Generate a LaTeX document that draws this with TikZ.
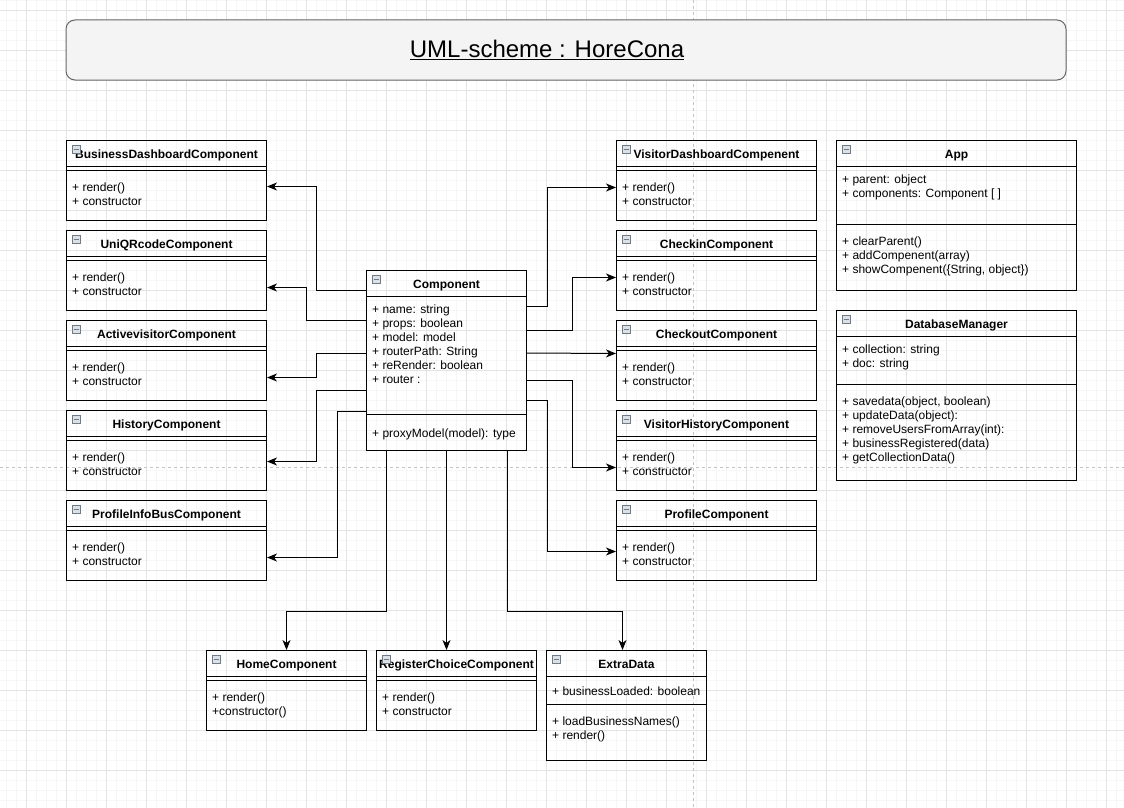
\documentclass[tikz,border=0pt]{standalone}
\usepackage{fontspec}
\setmainfont{Liberation Sans}
\usepackage{tikz}
\usetikzlibrary{calc,arrows.meta}
\usepackage{xcolor}
\definecolor{grid_minor}{HTML}{F6F6F6}
\definecolor{grid_major}{HTML}{E4E4E4}
\definecolor{page_line}{HTML}{C4C4C4}
\definecolor{title_fill}{HTML}{F4F4F4}
\definecolor{title_draw}{HTML}{666666}
\definecolor{icon_draw}{HTML}{6F7B88}
\definecolor{icon_fill}{HTML}{DCE1E6}

% simple component box: name, x, y, width, title, operations
\newcommand{\compbox}[6]{%
	\node[umlbox, minimum width=#4pt, minimum height=80pt] (#1) at (#2,#3) {};
	\node[umltitle] (#1-name) at ([yshift=-18pt]#1.north) {#5};
	\node[umlicon] (#1-icon) at ([xshift=10pt,yshift=-9pt]#1.north west) {};
	\draw[icon_draw, line width=1pt] ([xshift=-2.5pt]#1-icon.center) -- ([xshift=2.5pt]#1-icon.center);
	\draw[umlline] ([yshift=-26pt]#1.north west) -- ([yshift=-26pt]#1.north east);
	\draw[umlline] ([yshift=-30pt]#1.north west) -- ([yshift=-30pt]#1.north east);
	\node[umltext] (#1-ops) at ([xshift=6pt,yshift=-42.2pt]#1.north west) {#6};
}
% class with fields: name, x, y, width, height, title, fields, separator, operations
\newcommand{\umlclass}[9]{%
	\node[umlbox, minimum width=#4pt, minimum height=#5pt] (#1) at (#2,#3) {};
	\node[umltitle] (#1-name) at ([yshift=-18pt]#1.north) {#6};
	\node[umlicon] (#1-icon) at ([xshift=10pt,yshift=-9pt]#1.north west) {};
	\draw[icon_draw, line width=1pt] ([xshift=-2.5pt]#1-icon.center) -- ([xshift=2.5pt]#1-icon.center);
	\draw[umlline] ([yshift=-26pt]#1.north west) -- ([yshift=-26pt]#1.north east);
	\node[umltext] (#1-attr) at ([xshift=6pt,yshift=-35pt]#1.north west) {#7};
	\draw[umlline] ([yshift=-#8pt]#1.north west) -- ([yshift=-#8pt]#1.north east);
	\node[umltext] (#1-ops) at ([xshift=6pt,yshift=-#8pt-13pt]#1.north west) {#9};
}

\begin{document}
\begin{tikzpicture}[x=1pt, y=-1pt,
	umlbox/.style={draw, line width=1pt, anchor=north west, inner sep=0pt},
	umlline/.style={line width=1pt},
	umltitle/.style={anchor=base, inner sep=0pt, font=\fontsize{12}{14}\selectfont\bfseries},
	umltext/.style={anchor=north west, align=left, inner sep=0pt, font=\fontsize{12}{14}\selectfont, execute at begin node=\strut},
	umlicon/.style={draw=icon_draw, fill=icon_fill, line width=0.6pt, minimum size=8pt, inner sep=0pt},
	link/.style={line width=1pt, -{Stealth[length=10pt, width=8pt, inset=3pt]}}]
	\useasboundingbox (0,0) rectangle (1124,808);
	% background grid
	\foreach \i in {0,...,111}
		\draw[grid_minor, line width=0.8pt] (\i*10+6.67,0) -- (\i*10+6.67,808);
	\foreach \i in {0,...,80}
		\draw[grid_minor, line width=0.8pt] (0,\i*10) -- (1124,\i*10);
	\foreach \i in {0,...,27}
		\draw[grid_major, line width=0.8pt] (\i*40+26.67,0) -- (\i*40+26.67,808);
	\foreach \i in {0,...,19}
		\draw[grid_major, line width=0.8pt] (0,\i*40+10) -- (1124,\i*40+10);
	\draw[page_line, dashed, line width=0.8pt] (693,0) -- (693,808);
	\draw[page_line, dashed, line width=0.8pt] (0,467) -- (1124,467);

	\node[draw=title_draw, fill=title_fill, line width=1pt, rounded corners=9pt, minimum width=1000pt, minimum height=60pt] (titlebox) at (566,50) {};
	\node[font=\fontsize{24}{28}\selectfont, inner sep=0pt] (title) at (547,50) {\underline{UML-scheme : HoreCona}};

	% left column
	\compbox{bdc}{66}{140}{200}{BusinessDashboardComponent}{+ render()\\+ constructor}
	\compbox{uqc}{66}{230}{200}{UniQRcodeComponent}{+ render()\\+ constructor}
	\compbox{avc}{66}{320}{200}{ActivevisitorComponent}{+ render()\\+ constructor}
	\compbox{hc}{66}{410}{200}{HistoryComponent}{+ render()\\+ constructor}
	\compbox{pib}{66}{500}{200}{ProfileInfoBusComponent}{+ render()\\+ constructor}
	% right column
	\compbox{vdc}{616}{140}{200}{VisitorDashboardCompenent}{+ render()\\+ constructor}
	\compbox{cic}{616}{230}{200}{CheckinComponent}{+ render()\\+ constructor}
	\compbox{coc}{616}{320}{200}{CheckoutComponent}{+ render()\\+ constructor}
	\compbox{vhc}{616}{410}{200}{VisitorHistoryComponent}{+ render()\\+ constructor}
	\compbox{pc}{616}{500}{200}{ProfileComponent}{+ render()\\+ constructor}
	% bottom row
	\compbox{home}{206}{650}{160}{HomeComponent}{+ render()\\+constructor()}
	\compbox{rcc}{376}{650}{160}{RegisterChoiceComponent}{+ render()\\+ constructor}
	\umlclass{ed}{546}{650}{160}{110}{ExtraData}{+ businessLoaded: boolean}{54}{+ loadBusinessNames()\\+ render()}

	\umlclass{comp}{366}{270}{160}{180}{Component}{+ name: string\\+ props: boolean\\+ model: model\\+ routerPath: String\\+ reRender: boolean\\+ router :}{144}{+ proxyModel(model): type}
	\umlclass{app}{836}{140}{240}{150}{App}{+ parent: object\\+ components: Component [ ]}{84}{+ clearParent()\\+ addCompenent(array)\\+ showCompenent(\{String, object\})}
	\umlclass{dbm}{836}{310}{240}{170}{DatabaseManager}{+ collection: string\\+ doc: string}{74}{+ savedata(object, boolean)\\+ updateData(object):\\+ removeUsersFromArray(int):\\+ businessRegistered(data)\\+ getCollectionData()}

	% connectors
	\draw[link] ([yshift=-20pt]comp.north west) -- ++(-50,0) |- ([yshift=-6pt]bdc.east);
	\draw[link] ([yshift=-50pt]comp.north west) -- ++(-60,0) |- ([yshift=-17pt]uqc.east);
	\draw[link] ([yshift=-83pt]comp.north west) -- ++(-50,0) |- ([yshift=-17pt]avc.east);
	\draw[link] ([yshift=-120pt]comp.north west) -- ++(-50,0) |- ([yshift=-11pt]hc.east);
	\draw[link] ([yshift=-141pt]comp.north west) -- ++(-29,0) |- ([yshift=-17pt]pib.east);
	\draw[link] ([yshift=-36pt]comp.north east) -- ++(20,0) |- ([yshift=-7pt]vdc.west);
	\draw[link] ([yshift=-60pt]comp.north east) -- ++(45,0) |- ([yshift=-7pt]cic.west);
	\draw[link] ([yshift=-83pt]comp.north east) -- ([yshift=7pt]coc.west);
	\draw[link] ([yshift=-110pt]comp.north east) -- ++(45,0) |- ([yshift=-17pt]vhc.west);
	\draw[link] ([yshift=-130pt]comp.north east) -- ++(20,0) |- ([yshift=-11pt]pc.west);
	\draw[link] ([xshift=20pt]comp.south west) -- ++(0,160) -| (home.north);
	\draw[link] (comp.south) -- (comp.south |- rcc.north);
	\draw[link] ([xshift=-20pt]comp.south east) -- ++(0,160) -| ([xshift=-4pt]ed.north);
\end{tikzpicture}
\end{document}
